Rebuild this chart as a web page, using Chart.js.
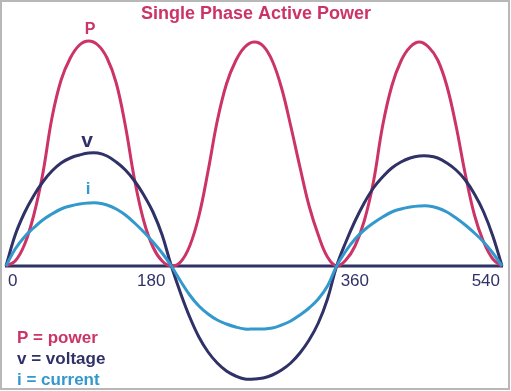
<!DOCTYPE html>
<html>
<head>
<meta charset="utf-8">
<script src="https://cdn.jsdelivr.net/npm/chart.js@4.4.1/dist/chart.umd.min.js"></script>
<style>
    body { margin: 0; background: #ffffff; }
    canvas { display: block; }
</style>
</head>
<body>
<canvas id="grafico" width="511" height="391"></canvas>
<script>
// degrees along the x axis
var graus = [0, 10, 20, 30, 40, 50, 60, 70, 80, 90, 100, 110, 120, 130, 140, 150, 160, 170, 180,
    190, 200, 210, 220, 230, 240, 250, 260, 270, 280, 290, 300, 310, 320, 330, 340, 350, 360,
    370, 380, 390, 400, 410, 420, 430, 440, 450, 460, 470, 480, 490, 500, 510, 520, 530, 540];

// values
var potencia = [0, 5, 21, 50, 92, 148, 186, 208, 221, 225, 221, 208, 183, 140, 86, 45, 19, 5, 0,
    4, 20, 50, 95, 145, 182, 205, 219, 224, 220, 205, 178, 140, 99, 60, 31, 9, 0,
    6, 20, 45, 84, 140, 180, 205, 219, 224, 219, 206, 180, 140, 92, 51, 24, 7, 0];

var tensao = [0, 31, 53, 70, 84, 95, 103, 108, 111, 113, 113, 110, 104, 96, 85, 71, 54, 31, 0,
    -27, -51, -71, -86, -97, -105, -110, -113, -113, -112, -109, -104, -97, -87, -74, -57, -33, 0,
    24, 45, 63, 78, 89, 98, 104, 108, 110, 110, 108, 103, 96, 86, 72, 54, 30, 0];

var corrente = [0, 17, 29, 38, 46, 52, 57, 60, 62, 63, 63, 61, 57, 51, 43, 34, 24, 13, 0,
    -15, -29, -40, -48, -54, -58, -61, -63, -63, -63, -62, -59, -55, -49, -42, -33, -20, 0,
    15, 27, 36, 43, 49, 54, 57, 59, 60, 60, 58, 54, 48, 41, 33, 24, 13, 0];

var valoresEixo = [0, 180, 360, 540];
var rotulosEixo = ['0', '180', '360', '540'];
var legendas = ['P = power', 'v = voltage', 'i = current'];

var vermelho = '#cc3366';
var marinho = '#2f3167';
var azul = '#3399cc';

function pontos(serie) {
    return graus.map(function (g, k) {
        return { x: g, y: serie[k] };
    });
}

var textos = {
    id: 'textos',
    beforeDatasetsDraw: function (chart) {
        var ctx = chart.ctx;
        var x = chart.scales.x;
        var y = chart.scales.y;
        ctx.save();
        ctx.strokeStyle = marinho;
        ctx.lineWidth = 3;
        ctx.beginPath();
        ctx.moveTo(x.getPixelForValue(0) - 1, y.getPixelForValue(0));
        ctx.lineTo(x.getPixelForValue(540) + 1, y.getPixelForValue(0));
        ctx.stroke();
        ctx.restore();
    },
    afterDraw: function (chart) {
        var ctx = chart.ctx;
        var x = chart.scales.x;
        var y = chart.scales.y;
        ctx.save();

        ctx.strokeStyle = '#b8b8b8';
        ctx.lineWidth = 2;
        ctx.strokeRect(1, 1, 508, 388);

        ctx.textBaseline = 'alphabetic';
        ctx.fillStyle = vermelho;
        ctx.textAlign = 'center';
        ctx.font = 'bold 18px "Liberation Sans", Arial, sans-serif';
        ctx.fillText('Single Phase Active Power', 256, 19);

        // axis labels
        var alinhar = ['left', 'right', 'left', 'right'];
        var desvio = [2, -6, 4, -2];
        ctx.fillStyle = marinho;
        ctx.font = '17px "Liberation Sans", Arial, sans-serif';
        for (var k = 0; k < valoresEixo.length; k++) {
            ctx.textAlign = alinhar[k];
            ctx.fillText(rotulosEixo[k], x.getPixelForValue(valoresEixo[k]) + desvio[k], y.getPixelForValue(0) + 20);
        }

        // curve names above the first peaks
        ctx.textAlign = 'center';
        ctx.fillStyle = vermelho;
        ctx.font = 'bold 16px "Liberation Sans", Arial, sans-serif';
        ctx.fillText('P', 90, 34);
        ctx.fillStyle = marinho;
        ctx.font = 'bold 21px "Liberation Sans", Arial, sans-serif';
        ctx.fillText('v', 87, 147);
        ctx.fillStyle = azul;
        ctx.font = 'bold 17px "Liberation Sans", Arial, sans-serif';
        ctx.fillText('i', 88, 194);

        // legend
        var cores = [vermelho, marinho, azul];
        ctx.textAlign = 'left';
        ctx.font = 'bold 17px "Liberation Sans", Arial, sans-serif';
        for (var n = 0; n < legendas.length; n++) {
            ctx.fillStyle = cores[n];
            ctx.fillText(legendas[n], 17, 343 + n * 21);
        }
        ctx.restore();
    }
};

var config = {
    type: 'line',
    data: {
        datasets: [{
            label: 'i',
            data: pontos(corrente),
            borderColor: azul,
            borderWidth: 3,
            pointRadius: 0,
            tension: 0.4,
            clip: false
        }, {
            label: 'v',
            data: pontos(tensao),
            borderColor: marinho,
            borderWidth: 3,
            pointRadius: 0,
            tension: 0.4,
            clip: false
        }, {
            label: 'P',
            data: pontos(potencia),
            borderColor: vermelho,
            borderWidth: 3,
            pointRadius: 0,
            tension: 0.4,
            clip: false
        }]
    },
    options: {
        responsive: false,
        animation: false,
        devicePixelRatio: 1,
        layout: { padding: { left: 6, right: 9, top: 26, bottom: 5 } },
        plugins: {
            legend: { display: false },
            tooltip: { enabled: false },
            title: { display: false }
        },
        scales: {
            x: { type: 'linear', min: 0, max: 540, display: false },
            y: { min: -120, max: 240, display: false }
        }
    },
    plugins: [textos]
};

var myChart = new Chart(document.getElementById('grafico'), config);
</script>
</body>
</html>
